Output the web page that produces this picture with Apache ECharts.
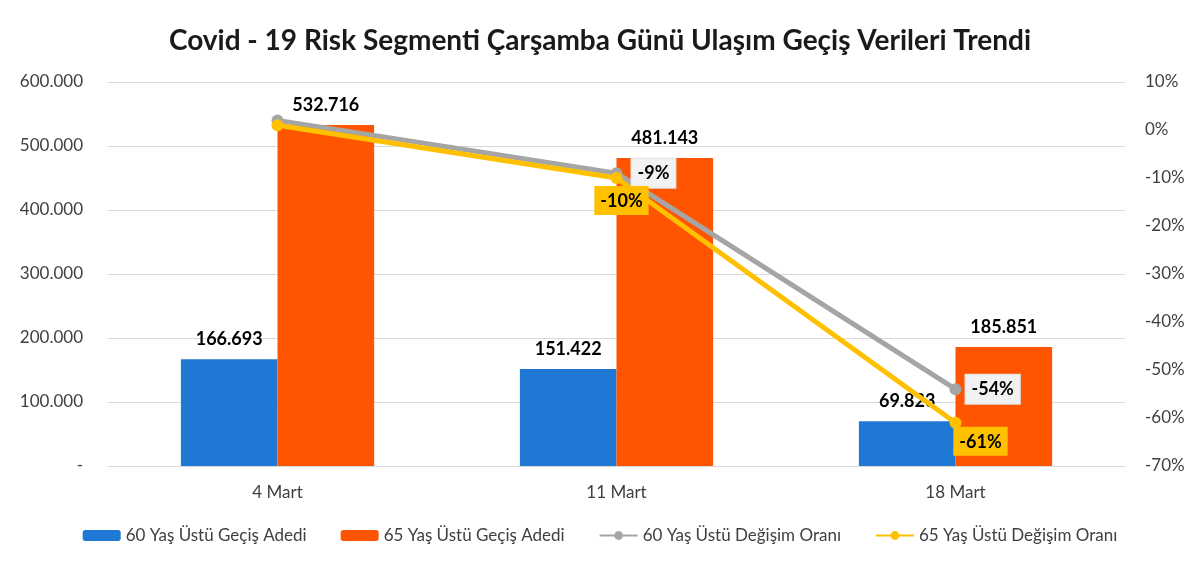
<!DOCTYPE html>
<html><head><meta charset="utf-8">
<script src="https://cdn.jsdelivr.net/npm/echarts@6/dist/echarts.min.js"></script>
<style>html,body{margin:0;padding:0;background:#fff}#c{width:1200px;height:570px}</style>
</head><body><div id="c"></div>
<script>
const categories = ['4 Mart', '11 Mart', '18 Mart'];
const count60 = [166693, 151422, 69823];
const count65 = [532716, 481143, 185851];
const change60 = [2, -9, -54];
const change65 = [1, -10, -61];
const leftTicks = { min: 0, max: 600000, interval: 100000 };
const rightTicks = { min: -70, max: 10, interval: 10 };

const FONT = 'Lato, "Open Sans", sans-serif';
const fmtThousands = v => v === 0 ? '-' : String(Math.round(v)).replace(/\B(?=(\d{3})+(?!\d))/g, '.');

const chart = echarts.init(document.getElementById('c'));
const barLabel = { show: true, position: 'top', distance: 11, fontFamily: FONT, fontWeight: 'bold', fontSize: 18, color: '#000', formatter: p => fmtThousands(p.value) };

function lineData(values, labelCfgs) {
  return values.map((v, i) => labelCfgs[i] ? { value: v, label: labelCfgs[i] } : { value: v, label: { show: false } });
}
const grayBox = { show: true, backgroundColor: '#F2F2F2', borderColor: '#E0E0E0', borderWidth: 1, padding: [6, 6, 5, 6] };
const yellowBox = { show: true, backgroundColor: '#FFC000', padding: [6, 6, 5, 6] };

chart.setOption({
  animation: false,
  title: { text: 'Covid - 19 Risk Segmenti Çarşamba Günü Ulaşım Geçiş Verileri Trendi', left: 'center', top: 22,
    textStyle: { fontFamily: FONT, fontWeight: 'bold', fontSize: 28, color: '#1a1a1a' } },
  grid: { left: 108, right: 75, top: 82, bottom: 104 },
  legend: { bottom: 21, left: 'center', itemWidth: 38, itemHeight: 11, itemGap: 34,
    textStyle: { fontFamily: FONT, fontSize: 17, color: '#404040' } },
  xAxis: { type: 'category', data: categories,
    axisLine: { lineStyle: { color: '#D9D9D9' } }, axisTick: { show: false },
    axisLabel: { fontFamily: FONT, fontSize: 17, color: '#404040', margin: 18 } },
  yAxis: [
    { type: 'value', min: leftTicks.min, max: leftTicks.max, interval: leftTicks.interval,
      axisLine: { show: false }, axisTick: { show: false },
      splitLine: { lineStyle: { color: '#D9D9D9' } },
      axisLabel: { fontFamily: FONT, fontSize: 17, color: '#404040', margin: 25, formatter: fmtThousands } },
    { type: 'value', min: rightTicks.min, max: rightTicks.max, interval: rightTicks.interval,
      axisLine: { show: false }, axisTick: { show: false }, splitLine: { show: false },
      axisLabel: { fontFamily: FONT, fontSize: 17, color: '#404040', margin: 20, formatter: '{value}%' } }
  ],
  series: [
    { name: '60 Yaş Üstü Geçiş Adedi', type: 'bar', data: count60, itemStyle: { color: '#1F78D3' },
      barGap: '0%', barCategoryGap: '43%', label: barLabel },
    { name: '65 Yaş Üstü Geçiş Adedi', type: 'bar', data: count65, itemStyle: { color: '#FF5500' },
      barGap: '0%', barCategoryGap: '43%', label: barLabel },
    { name: '60 Yaş Üstü Değişim Oranı', type: 'line', yAxisIndex: 1, data: lineData(change60, [null,
        Object.assign({}, grayBox, { position: 'right', distance: 9 }),
        Object.assign({}, grayBox, { position: 'right', distance: 4 })]),
      symbol: 'circle', symbolSize: 12, lineStyle: { width: 5, color: '#A5A5A5' }, itemStyle: { color: '#A5A5A5' },
      label: { fontFamily: FONT, fontWeight: 'bold', fontSize: 18, color: '#000', formatter: '{c}%' } },
    { name: '65 Yaş Üstü Değişim Oranı', type: 'line', yAxisIndex: 1, data: lineData(change65, [null,
        Object.assign({}, yellowBox, { position: 'bottom', distance: 2, offset: [5, 0] }),
        Object.assign({}, yellowBox, { position: 'bottom', distance: 0, offset: [25, -2] })]),
      symbol: 'circle', symbolSize: 12, lineStyle: { width: 5, color: '#FFC000' }, itemStyle: { color: '#FFC000' },
      label: { fontFamily: FONT, fontWeight: 'bold', fontSize: 18, color: '#000', formatter: '{c}%' } }
  ]
});
</script></body></html>
